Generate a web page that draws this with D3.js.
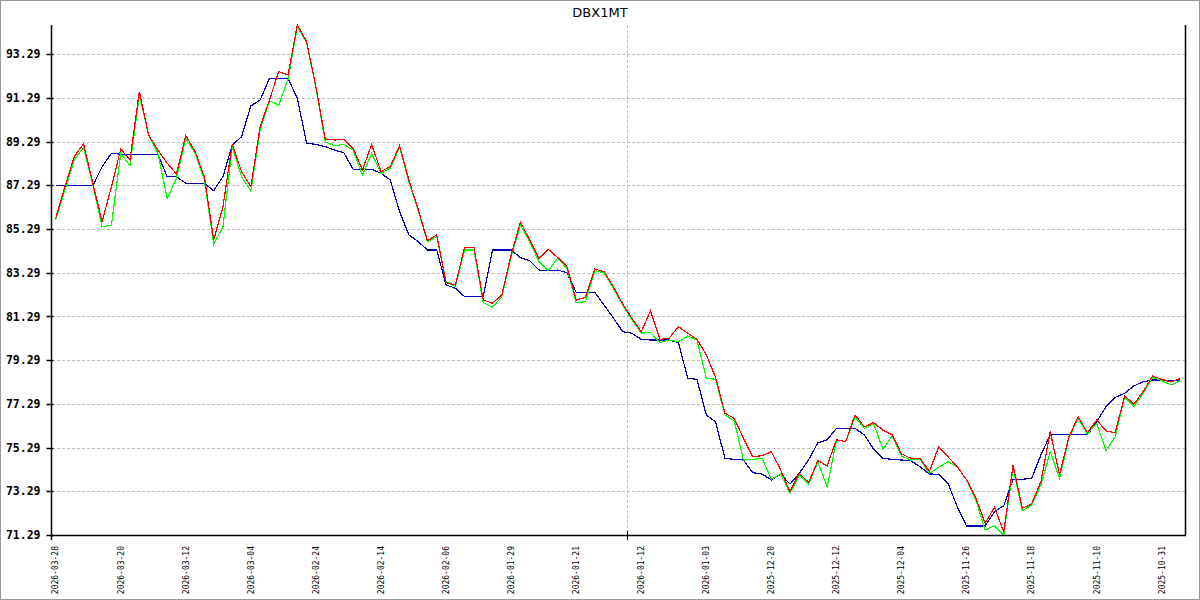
<!DOCTYPE html>
<html>
<head>
<meta charset="utf-8">
<script src="https://cdn.jsdelivr.net/npm/d3@7"></script>
<style>
  html, body { margin: 0; padding: 0; background: #fff; }
  svg { display: block; }
</style>
</head>
<body>
<svg id="chart" width="1200" height="600"></svg>
<script>
const title = "DBX1MT";

const xLabels = ["2026-03-28","2026-03-20","2026-03-12","2026-03-04","2026-02-24","2026-02-14",
  "2026-02-06","2026-01-29","2026-01-21","2026-01-12","2026-01-03","2025-12-20","2025-12-12",
  "2025-12-04","2025-11-26","2025-11-18","2025-11-10","2025-10-31"];
const labelInterval = 7;
const markerIndex = 62;

const yTicks = [71.29, 73.29, 75.29, 77.29, 79.29, 81.29, 83.29, 85.29, 87.29, 89.29, 91.29, 93.29];

const redSeries = [85.78,87.22,88.60,89.18,87.38,85.62,87.22,88.94,88.45,91.57,
  89.59,88.90,88.30,87.81,89.56,88.83,87.68,84.79,86.31,89.18,
  87.91,87.22,89.97,91.19,92.49,92.34,94.62,93.86,91.80,89.41,
  89.36,89.39,88.98,87.99,89.16,87.91,88.14,89.10,87.53,86.19,
  84.75,85.02,82.83,82.73,84.45,84.45,82.04,81.89,82.27,84.10,
  85.60,84.79,83.95,84.36,83.99,83.57,82.04,82.16,83.45,83.34,
  82.65,81.86,81.20,80.59,81.55,80.24,80.29,80.82,80.52,80.24,
  79.53,78.50,76.86,76.63,75.71,74.87,74.92,75.10,74.26,73.27,
  74.11,73.70,74.69,74.45,75.64,75.56,76.78,76.24,76.43,76.09,
  75.87,75.00,74.80,74.80,74.19,75.33,74.87,74.41,73.81,72.97,
  71.83,72.56,71.44,74.49,72.51,72.71,73.73,76.02,74.04,75.76,
  76.70,75.97,76.55,76.05,75.97,77.65,77.28,77.85,78.56,78.41,
  78.29,78.46];

const greenSeries = [85.70,87.07,88.45,89.03,87.30,85.39,85.47,88.75,88.19,91.42,
  89.59,88.75,86.69,87.61,89.44,88.75,87.53,84.60,85.39,89.06,
  87.68,87.03,89.82,91.15,90.96,92.14,94.55,93.80,91.75,89.28,
  89.09,89.16,88.90,87.76,88.75,87.84,88.07,89.03,87.45,86.13,
  84.71,84.94,82.88,82.65,84.33,84.33,81.92,81.71,82.19,84.02,
  85.47,84.71,83.79,83.38,83.95,83.49,81.92,81.96,83.38,83.29,
  82.58,81.81,81.13,80.52,80.56,80.09,80.21,80.13,80.39,80.21,
  78.46,78.41,76.78,76.52,74.72,74.75,74.80,73.84,74.08,73.20,
  74.04,73.62,74.64,73.50,75.64,75.56,76.70,76.17,76.40,75.21,
  75.82,74.90,74.72,74.75,74.11,74.39,74.64,74.41,73.81,72.89,
  71.52,71.70,71.29,74.34,72.40,72.66,73.58,75.10,73.88,75.71,
  76.63,75.91,76.40,75.15,75.79,77.62,77.16,77.77,78.50,78.35,
  78.15,78.35];

const blueSeries = [87.27,87.27,87.27,87.27,87.27,88.14,88.75,88.71,88.71,88.71,
  88.71,88.71,87.68,87.68,87.38,87.38,87.38,87.04,87.68,89.13,
  89.51,90.92,91.19,92.18,92.18,92.18,91.27,89.21,89.16,89.06,
  88.90,88.78,88.02,88.02,88.02,87.84,87.53,86.08,85.02,84.71,
  84.33,84.33,82.73,82.58,82.19,82.19,82.19,84.33,84.33,84.33,
  83.98,83.84,83.41,83.37,83.41,83.29,82.39,82.39,82.39,81.81,
  81.22,80.59,80.52,80.24,80.21,80.21,80.21,80.09,78.46,78.41,
  76.78,76.47,74.80,74.75,74.72,74.14,74.08,73.81,74.07,73.62,
  74.11,74.72,75.51,75.64,76.17,76.17,76.17,75.87,75.21,74.80,
  74.75,74.72,74.69,74.41,74.08,74.07,73.66,72.58,71.70,71.70,
  71.70,72.36,72.63,73.84,73.84,73.88,74.95,75.87,75.87,75.87,
  75.87,75.87,76.47,77.16,77.59,77.77,78.11,78.30,78.38,78.38,
  78.35,78.38];

const W = 1200, H = 600;
const plot = { left: 51, right: 1185, top: 25, bottom: 535 };

const svg = d3.select("#chart");

// outer frame
svg.append("rect").attr("x", 0.5).attr("y", 0.5).attr("width", W - 1).attr("height", H - 1)
  .attr("fill", "#fff").attr("stroke", "#999").attr("stroke-width", 1);

const n = redSeries.length;
const xBand = d3.scaleBand().domain(d3.range(n)).range([plot.left, plot.right]);
const xPos = i => xBand(i) + xBand.bandwidth() / 2;

const allVals = redSeries.concat(greenSeries, blueSeries);
const y = d3.scaleLinear().domain([d3.min(allVals), d3.max(allVals)]).range([plot.bottom, plot.top]);

// horizontal grid
svg.append("g").selectAll("line").data(yTicks).join("line")
  .attr("x1", plot.left + 1).attr("x2", plot.right)
  .attr("y1", d => Math.round(y(d)) + 0.5).attr("y2", d => Math.round(y(d)) + 0.5)
  .attr("stroke", "#bdbdbd").attr("stroke-dasharray", "3,2").attr("stroke-width", 1);

// vertical marker grid line
const mx = Math.round(xBand(markerIndex)) + 0.5;
svg.append("line").attr("x1", mx).attr("x2", mx).attr("y1", plot.top).attr("y2", plot.bottom)
  .attr("stroke", "#bdbdbd").attr("stroke-dasharray", "3,2");

// series lines
const line = d3.line().x((d, i) => xPos(i)).y(d => y(d));
function drawSeries(data, color) {
  svg.append("path").datum(data).attr("d", line)
    .attr("fill", "none").attr("stroke", color).attr("stroke-width", 1.2)
    .attr("shape-rendering", "crispEdges");
}
drawSeries(blueSeries, "#0000b0");
drawSeries(greenSeries, "#00ff00");
drawSeries(redSeries, "#ff0000");

// y axis
const yAxisG = svg.append("g").attr("transform", `translate(${plot.left + 0.5},0)`);
yAxisG.append("line").attr("x1", 0).attr("x2", 0).attr("y1", plot.top).attr("y2", plot.bottom + 5)
  .attr("stroke", "#000").attr("stroke-width", 1.5);
yAxisG.selectAll("line.tick").data(yTicks).join("line").attr("class", "tick")
  .attr("x1", -5).attr("x2", 2)
  .attr("y1", d => Math.round(y(d)) + 0.5).attr("y2", d => Math.round(y(d)) + 0.5)
  .attr("stroke", "#000").attr("stroke-width", 1.5);
yAxisG.selectAll("text").data(yTicks).join("text")
  .attr("x", -11).attr("y", d => y(d))
  .attr("dy", "0.36em")
  .attr("text-anchor", "end")
  .attr("font-family", "'DejaVu Sans Mono', monospace").attr("font-weight", "bold")
  .attr("font-size", "11.5px").attr("fill", "#000")
  .text(d => d3.format(".2f")(d));

// x axis line
svg.append("line").attr("x1", plot.left).attr("x2", plot.right + 1)
  .attr("y1", plot.bottom + 0.5).attr("y2", plot.bottom + 0.5)
  .attr("stroke", "#000").attr("stroke-width", 1.5);
// right border
svg.append("line").attr("x1", plot.right + 0.5).attr("x2", plot.right + 0.5)
  .attr("y1", plot.top).attr("y2", plot.bottom)
  .attr("stroke", "#000").attr("stroke-width", 1.5);
// marker tick
svg.append("line").attr("x1", mx).attr("x2", mx).attr("y1", plot.bottom - 4).attr("y2", plot.bottom + 5)
  .attr("stroke", "#000").attr("stroke-width", 1.2);

// x labels
const labelData = xLabels.map((t, k) => ({ t, i: k * labelInterval }));
svg.append("g").selectAll("text").data(labelData).join("text")
  .attr("transform", d => `translate(${xPos(d.i)},${plot.bottom + 11}) rotate(-90)`)
  .attr("text-anchor", "end")
  .attr("dy", "0.35em")
  .attr("font-family", "'DejaVu Sans Mono', monospace")
  .attr("font-size", "8px").attr("fill", "#000")
  .text(d => d.t);

// title
svg.append("text").attr("x", 600).attr("y", 17)
  .attr("text-anchor", "middle")
  .attr("font-family", "'DejaVu Sans', sans-serif").attr("font-size", "13px").attr("fill", "#000")
  .text(title);
</script>
</body>
</html>
